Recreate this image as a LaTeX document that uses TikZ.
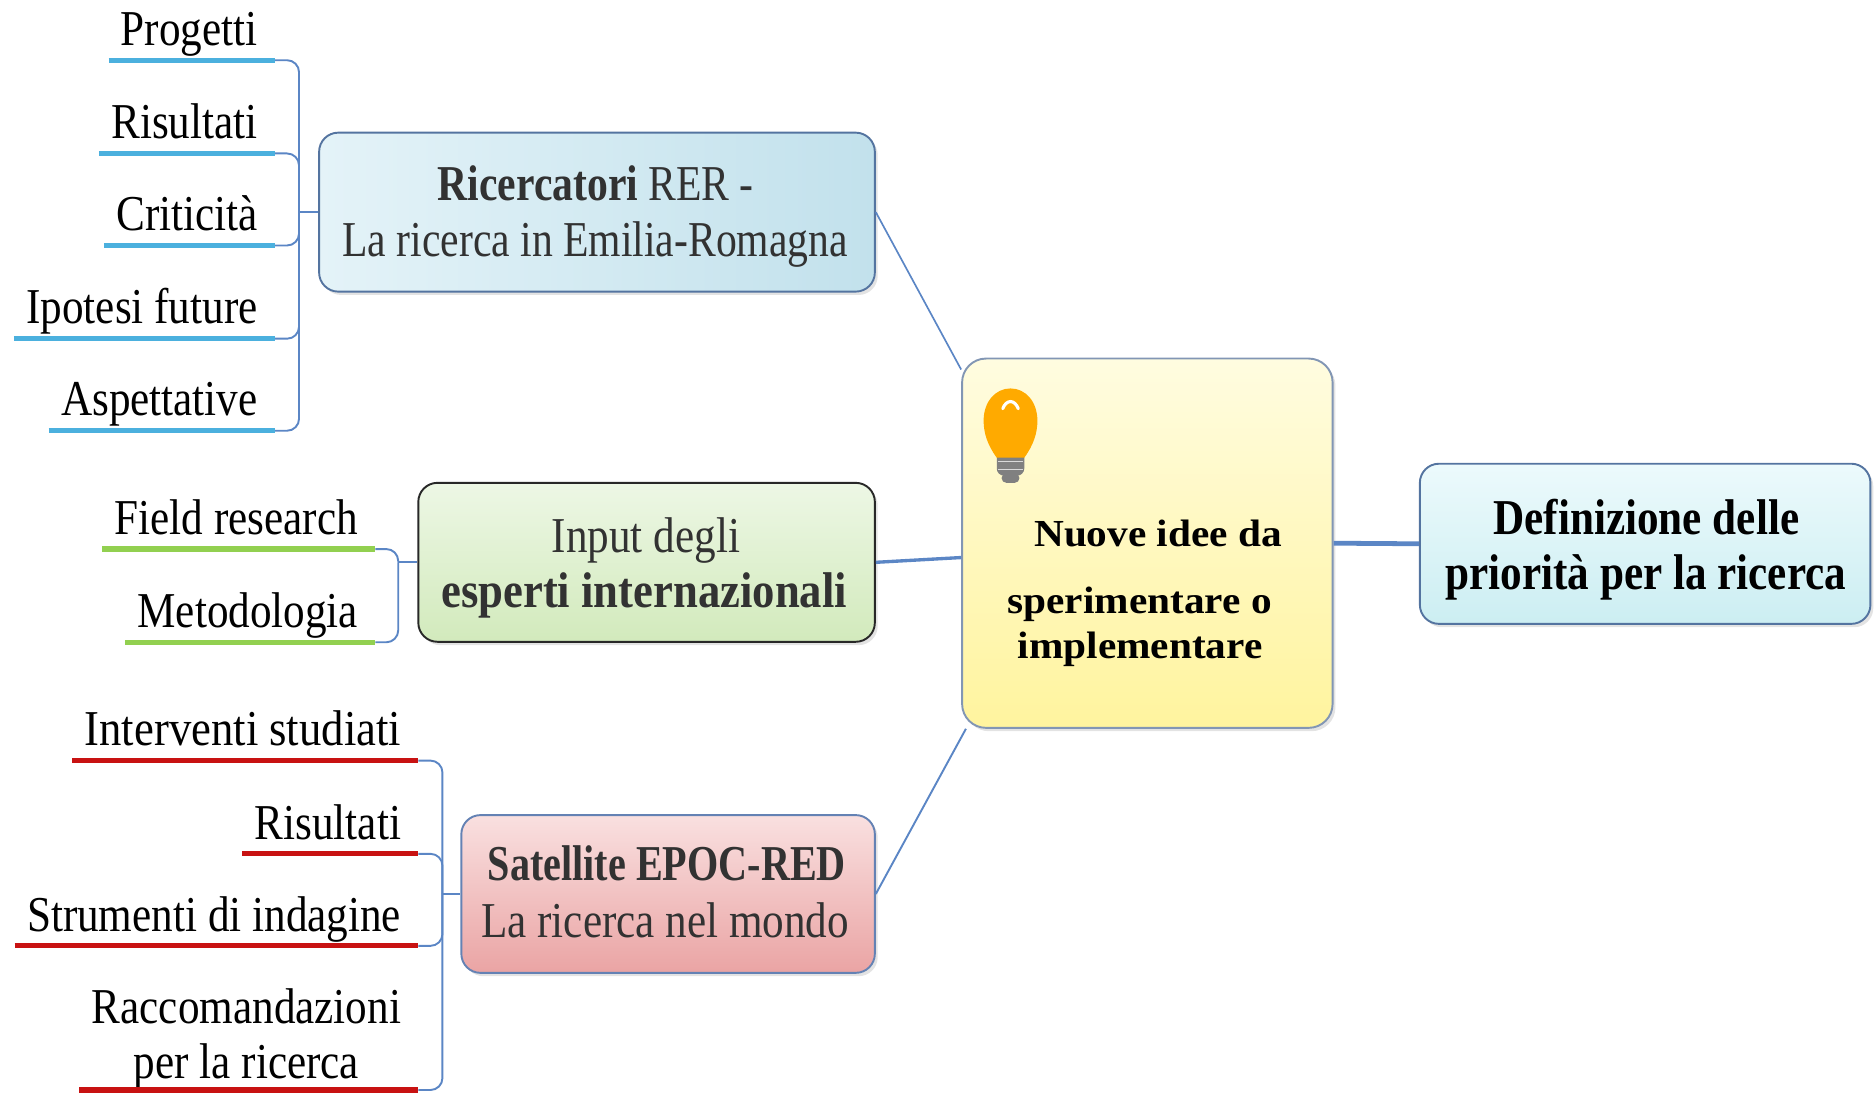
\documentclass[tikz,border=0pt]{standalone}
\usepackage{fontspec}
\setmainfont{Liberation Serif}
\newfontfamily\condf[FakeStretch=0.86]{Liberation Serif}
\newfontfamily\condb[FakeStretch=0.83]{Liberation Serif}
\newfontfamily\condc[FakeStretch=0.80]{Liberation Serif}
\newfontfamily\condd[FakeStretch=0.89]{Liberation Serif}
\newfontfamily\widef[FakeStretch=1.08]{Liberation Serif}
\usetikzlibrary{shadows}
\definecolor{ulblue}{RGB}{75,176,222}
\definecolor{ulgreen}{RGB}{146,208,80}
\definecolor{ulred}{RGB}{200,18,18}
\definecolor{brkblue}{RGB}{91,134,197}
\definecolor{txtgray}{RGB}{50,50,50}
\definecolor{ricL}{RGB}{228,243,248}
\definecolor{ricR}{RGB}{194,225,236}
\definecolor{ricD}{RGB}{84,116,160}
\definecolor{inpT}{RGB}{237,247,229}
\definecolor{inpB}{RGB}{210,234,188}
\definecolor{inpD}{RGB}{40,40,40}
\definecolor{satT}{RGB}{249,224,224}
\definecolor{satB}{RGB}{234,164,164}
\definecolor{satD}{RGB}{100,130,180}
\definecolor{ctrT}{RGB}{255,252,224}
\definecolor{ctrB}{RGB}{255,244,158}
\definecolor{ctrD}{RGB}{130,150,180}
\definecolor{defT}{RGB}{236,250,252}
\definecolor{defB}{RGB}{204,238,242}
\definecolor{bulbO}{RGB}{255,170,0}
\definecolor{bulbG}{RGB}{128,128,128}
\begin{document}
\begin{tikzpicture}[x=0.5pt,y=-0.5pt,
  box/.style={rectangle, rounded corners=8pt, line width=0.8pt, inner sep=0pt,
    drop shadow={shadow xshift=1.2pt, shadow yshift=-1.4pt, opacity=0.22}},
  btxt/.style={font=\condf\fontsize{21}{23}\selectfont, text=txtgray, inner sep=0pt, anchor=base},
  dtxt/.style={font=\condf\fontsize{21}{23}\selectfont\bfseries, text=black, inner sep=0pt, anchor=base},
  ctxt/.style={font=\widef\fontsize{16}{19}\selectfont\bfseries, text=black, inner sep=0pt, anchor=base},
  item/.style={font=\condf\fontsize{21}{23}\selectfont, inner xsep=0pt, inner ysep=6pt, text depth=0pt, anchor=base east},
  ulb/.style={line width=2.2pt, ulblue},
  ulg/.style={line width=2.2pt, ulgreen},
  ulr/.style={line width=2.2pt, ulred},
  brk/.style={line width=0.8pt, brkblue, rounded corners=5pt},
  lnk/.style={brkblue}
]
\useasboundingbox (0,0) rectangle (1568,914);

% main boxes
\node[box, draw=ricD, left color=ricL, right color=ricR, minimum width=232.5pt, minimum height=66.5pt] (ric) at (499.5,177.5) {};
\node[box, draw=inpD, top color=inpT, bottom color=inpB, minimum width=191pt, minimum height=66.5pt] (inp) at (541,470.5) {};
\node[box, draw=satD, top color=satT, bottom color=satB, minimum width=173pt, minimum height=66pt] (sat) at (559,748) {};
\node[box, rounded corners=10pt, draw=ctrD, top color=ctrT, bottom color=ctrB, minimum width=155pt, minimum height=154.5pt] (ctr) at (960,454.5) {};
\node[box, draw=ricD, top color=defT, bottom color=defB, minimum width=188.5pt, minimum height=67pt] (def) at (1376.5,455) {};

% texts in boxes
\node[btxt, font=\condb\fontsize{21}{23}\selectfont] (ric1) at (498.5,168) {\textbf{Ricercatori} RER -};
\node[btxt, font=\condb\fontsize{21}{23}\selectfont] (ric2) at (498,215) {La ricerca in Emilia-Romagna};
\node[btxt] (inp1) at (540.5,462) {Input degli};
\node[btxt, font=\condd\fontsize{21}{23}\selectfont] (inp2) at (539,508) {\textbf{esperti internazionali}};
\node[btxt, font=\condc\fontsize{21}{23}\selectfont] (sat1) at (558,737) {\textbf{Satellite EPOC-RED}};
\node[btxt, font=\condf\fontsize{21}{23}\selectfont] (sat2) at (556.5,784) {La ricerca nel mondo};
\node[dtxt] (def1) at (1377.5,447) {Definizione delle};
\node[dtxt] (def2) at (1377,493) {priorità per la ricerca};
\node[ctxt] (c1) at (969,457) {Nuove idee da};
\node[ctxt] (c2) at (953.5,513) {sperimentare o};
\node[ctxt] (c3) at (954,551) {implementare};

% light bulb
\fill[bulbG, rounded corners=3pt] (834,376) rectangle (857,398);
\fill[bulbG, rounded corners=2pt] (838,396) rectangle (853,404);
\draw[white!70!bulbG, line width=0.6pt] (835,386) -- (856,386) (835,393) -- (856,393);
\fill[bulbO] (834,383) .. controls (826,372) and (823,362) .. (823,352) .. controls (823,336) and (833,325) .. (845.5,325) .. controls (858,325) and (868,336) .. (868,352) .. controls (868,362) and (865,372) .. (857,383) -- cycle;
\draw[white, line width=1.3pt, line cap=round] (839,342) .. controls (842,334) and (849,334) .. (852,342);

% connectors between main boxes
\draw[lnk, line width=0.7pt] (ric.east) -- ([yshift=-5pt]ctr.north west);
\draw[lnk, line width=1.4pt] (inp.east) -- ([yshift=-6pt]ctr.west);
\draw[lnk, line width=0.8pt] (sat.east) -- ([xshift=2pt]ctr.south west);
\draw[lnk, line width=2pt] (ctr.east) -- (def.west);

% junction points
\coordinate (j1) at ([xshift=-8pt]ric.west);
\coordinate (j2) at ([xshift=-8pt]inp.west);
\coordinate (j3) at ([xshift=-7.5pt]sat.west);
\draw[brk] (j1) -- (ric.west);
\draw[brk] (j2) -- (inp.west);
\draw[brk] (j3) -- (sat.west);

% group 1
\node[item] (g1a) at (216,38) {Progetti};
\node[item] (g1b) at (216,116) {Risultati};
\node[item] (g1c) at (216,193) {Criticità};
\node[item] (g1d) at (216,271) {Ipotesi future};
\node[item] (g1e) at (216,348) {Aspettative};
\foreach \n in {g1a,g1b,g1c,g1d,g1e}{
  \draw[brk] ([xshift=7pt]\n.south east) -| (j1);
  \draw[ulb] ([xshift=-5pt]\n.south west) -- ([xshift=7pt]\n.south east);
}

% group 2
\node[item] (g2a) at (300,447) {Field research};
\node[item] (g2b) at (300,525) {Metodologia};
\foreach \n in {g2a,g2b}{
  \draw[brk] ([xshift=7pt]\n.south east) -| (j2);
  \draw[ulg] ([xshift=-5pt]\n.south west) -- ([xshift=7pt]\n.south east);
}

% group 3
\node[item, font=\condd\fontsize{21}{23}\selectfont] (g3a) at (336,624) {Interventi studiati};
\node[item] (g3b) at (336,702) {Risultati};
\node[item] (g3c) at (336,779) {Strumenti di indagine};
\node[item, align=center, inner ysep=4.5pt, anchor=south east] (g3d) at (336,912) {Raccomandazioni\\per la ricerca};
\foreach \n in {g3a,g3b,g3c,g3d}{
  \draw[brk] ([xshift=7pt]\n.south east) -| (j3);
  \draw[ulr] ([xshift=-5pt]\n.south west) -- ([xshift=7pt]\n.south east);
}
\end{tikzpicture}
\end{document}
